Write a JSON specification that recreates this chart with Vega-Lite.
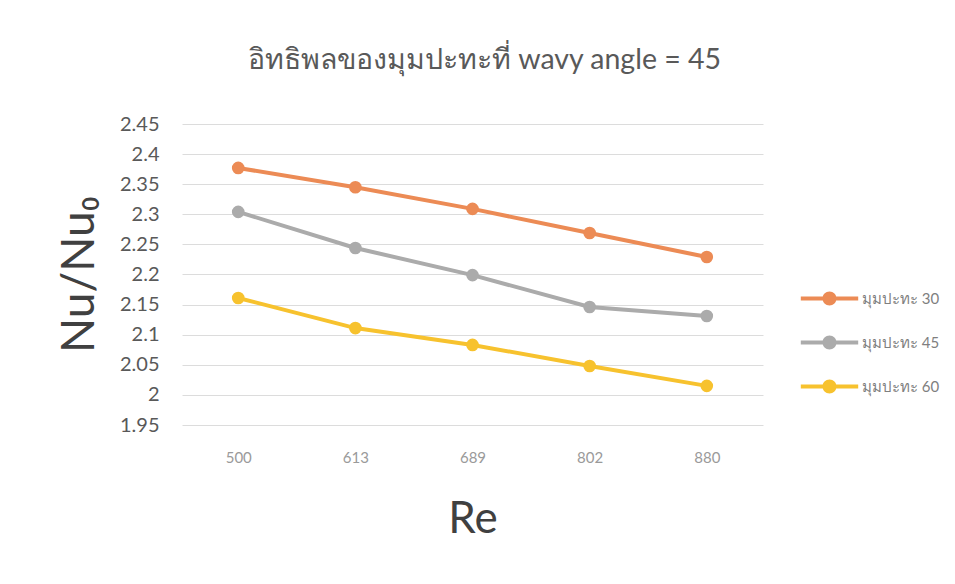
{
  "$schema": "https://vega.github.io/schema/vega-lite/v6.json",
  "width": 581,
  "height": 301,
  "autosize": {"type": "none"},
  "padding": {"left": 182, "top": 124, "right": 192, "bottom": 159},
  "background": "white",
  "title": {
    "text": "อิทธิพลของมุมปะทะที่ wavy angle = 45",
    "fontSize": 28.5,
    "font": "Lato, Noto Sans, DejaVu Sans, sans-serif",
    "fontWeight": "normal",
    "color": "#595959",
    "anchor": "middle",
    "dx": 12,
    "baseline": "alphabetic",
    "offset": 17
  },
  "data": {
    "values": [
      {"Re": "500", "series": "มุมปะทะ 30", "value": 2.377},
      {"Re": "613", "series": "มุมปะทะ 30", "value": 2.345},
      {"Re": "689", "series": "มุมปะทะ 30", "value": 2.309},
      {"Re": "802", "series": "มุมปะทะ 30", "value": 2.269},
      {"Re": "880", "series": "มุมปะทะ 30", "value": 2.229},
      {"Re": "500", "series": "มุมปะทะ 45", "value": 2.304},
      {"Re": "613", "series": "มุมปะทะ 45", "value": 2.244},
      {"Re": "689", "series": "มุมปะทะ 45", "value": 2.199},
      {"Re": "802", "series": "มุมปะทะ 45", "value": 2.146},
      {"Re": "880", "series": "มุมปะทะ 45", "value": 2.131},
      {"Re": "500", "series": "มุมปะทะ 60", "value": 2.161},
      {"Re": "613", "series": "มุมปะทะ 60", "value": 2.111},
      {"Re": "689", "series": "มุมปะทะ 60", "value": 2.083},
      {"Re": "802", "series": "มุมปะทะ 60", "value": 2.048},
      {"Re": "880", "series": "มุมปะทะ 60", "value": 2.015}
    ]
  },
  "encoding": {
    "x": {
      "field": "Re",
      "type": "ordinal",
      "sort": null,
      "scale": {"type": "point", "padding": 0.48},
      "axis": {
        "title": "Re",
        "titleFontSize": 44,
        "titleFont": "Lato, sans-serif",
        "titleFontWeight": "normal",
        "titleColor": "#404040",
        "titleY": 72,
        "titleBaseline": "top",
        "labelAngle": 0,
        "labelFontSize": 15,
        "labelFont": "Lato, sans-serif",
        "labelColor": "#9a9a9a",
        "labelPadding": 25,
        "domain": false,
        "ticks": false,
        "grid": false
      }
    },
    "y": {
      "field": "value",
      "type": "quantitative",
      "scale": {"domain": [1.95, 2.45], "nice": false, "zero": false},
      "axis": {
        "title": "Nu/Nu₀",
        "titleFontSize": 46,
        "titleFont": "Lato, sans-serif",
        "titleFontWeight": "normal",
        "titleColor": "#404040",
        "titleX": -103,
        "titleY": 150,
        "titleBaseline": "middle",
        "titleAngle": -90,
        "titleAlign": "center",
        "values": [1.95, 2, 2.05, 2.1, 2.15, 2.2, 2.25, 2.3, 2.35, 2.4, 2.45],
        "format": "~g",
        "labelFontSize": 20,
        "labelFont": "Lato, sans-serif",
        "labelColor": "#595959",
        "labelPadding": 23,
        "domain": false,
        "ticks": false,
        "grid": true,
        "gridColor": "#dcdcdc",
        "gridWidth": 1
      }
    },
    "color": {
      "field": "series",
      "type": "nominal",
      "scale": {
        "domain": ["มุมปะทะ 30", "มุมปะทะ 45", "มุมปะทะ 60"],
        "range": ["#EC8B55", "#ABABAB", "#F7C22E"]
      },
      "legend": {
        "title": null,
        "orient": "none",
        "legendX": 640,
        "legendY": 167,
        "symbolType": "M-4.1,-0.29 H4.1 V0.29 H-4.1 Z M1,0 A1,1 0 1,1 -1,0 A1,1 0 1,1 1,0 Z",
        "symbolSize": 196,
        "symbolStrokeWidth": 0,
        "symbolOpacity": 1,
        "labelOffset": 25,
        "labelFontSize": 15,
        "labelFont": "Lato, Noto Sans, sans-serif",
        "labelColor": "#7f7f7f",
        "rowPadding": 28,
        "encode": {
          "symbols": {
            "update": {
              "fill": {"scale": "color", "field": "value"},
              "strokeWidth": {"value": 0}
            }
          }
        }
      }
    }
  },
  "layer": [
    {
      "mark": {"type": "line", "strokeWidth": 4}
    },
    {
      "mark": {"type": "point", "filled": true, "size": 160, "opacity": 1}
    }
  ],
  "config": {"view": {"stroke": null}}
}
